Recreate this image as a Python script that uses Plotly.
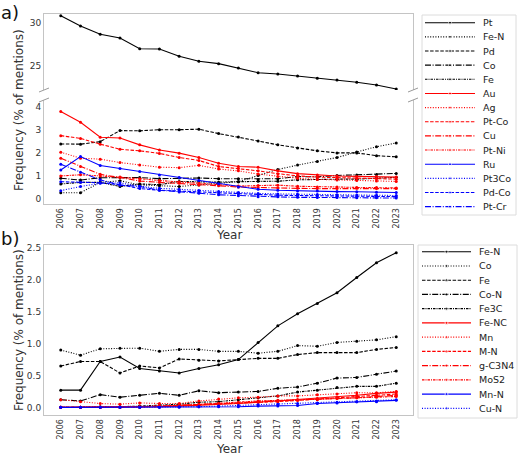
import plotly.graph_objects as go

# ---------------- data ----------------
years = list(range(2006, 2024))
year_labels = [str(y) for y in years]

# panel a) (% of mentions)
pt = [30.90, 29.68, 28.70, 28.27, 27.00, 26.97, 26.11, 25.52, 25.24, 24.73, 24.17, 24.02, 23.79, 23.51, 23.31, 23.04, 22.72, 22.25]
fe_n = [0.27, 0.27, 0.72, 0.79, 0.61, 0.57, 0.54, 0.61, 0.67, 0.75, 1.02, 1.28, 1.47, 1.63, 1.80, 2.04, 2.27, 2.43]
pd_ = [2.39, 2.38, 2.49, 2.97, 2.96, 3.01, 3.01, 3.03, 2.84, 2.69, 2.52, 2.35, 2.21, 2.09, 2.00, 2.00, 1.88, 1.83]
co = [0.90, 0.82, 0.92, 0.93, 0.93, 0.88, 0.91, 0.91, 0.88, 0.88, 0.85, 0.88, 0.97, 0.96, 1.02, 1.04, 1.06, 1.11]
fe = [0.65, 0.72, 0.72, 0.54, 0.65, 0.62, 0.76, 0.74, 0.73, 0.75, 0.77, 0.77, 0.83, 0.86, 0.86, 0.86, 0.91, 0.94]
au = [3.80, 3.33, 2.68, 2.65, 2.35, 2.13, 1.99, 1.80, 1.55, 1.41, 1.38, 1.22, 1.10, 1.04, 1.00, 0.98, 0.97, 0.95]
ag = [2.03, 1.77, 1.73, 1.58, 1.48, 1.38, 1.36, 1.46, 1.30, 1.22, 1.08, 0.98, 0.90, 0.85, 0.82, 0.80, 0.78, 0.76]
pt_co = [2.75, 2.63, 2.38, 2.16, 2.09, 1.98, 1.80, 1.67, 1.41, 1.32, 1.22, 1.10, 1.00, 0.95, 0.92, 0.90, 0.88, 0.86]
cu = [1.77, 1.41, 1.07, 0.93, 0.78, 0.72, 0.68, 0.61, 0.57, 0.52, 0.49, 0.48, 0.46, 0.45, 0.45, 0.46, 0.45, 0.45]
pt_ni = [1.00, 1.05, 1.00, 0.95, 0.88, 0.80, 0.74, 0.68, 0.62, 0.56, 0.58, 0.60, 0.55, 0.52, 0.52, 0.50, 0.50, 0.48]
ru = [1.26, 1.84, 1.45, 1.32, 1.19, 1.04, 0.93, 0.80, 0.66, 0.52, 0.42, 0.38, 0.35, 0.34, 0.32, 0.31, 0.29, 0.28]
pt3co = [0.36, 0.54, 0.68, 0.70, 0.55, 0.46, 0.42, 0.37, 0.32, 0.28, 0.24, 0.22, 0.20, 0.19, 0.18, 0.17, 0.16, 0.15]
pd_co = [0.75, 0.72, 0.70, 0.62, 0.45, 0.38, 0.34, 0.30, 0.26, 0.22, 0.18, 0.16, 0.15, 0.13, 0.12, 0.12, 0.11, 0.10]
pt_cr = [1.51, 1.16, 0.83, 0.60, 0.54, 0.38, 0.30, 0.25, 0.18, 0.14, 0.10, 0.09, 0.07, 0.06, 0.06, 0.05, 0.05, 0.04]

# panel b) (% of mentions)
co_n = [0.12, 0.10, 0.20, 0.16, 0.19, 0.22, 0.19, 0.26, 0.23, 0.24, 0.25, 0.30, 0.32, 0.38, 0.46, 0.47, 0.52, 0.57]
fe3c = [0.00, 0.00, 0.01, 0.01, 0.02, 0.03, 0.05, 0.08, 0.09, 0.12, 0.15, 0.18, 0.24, 0.27, 0.31, 0.33, 0.33, 0.38]
fe_nc = [0.00, 0.00, 0.00, 0.00, 0.00, 0.01, 0.02, 0.03, 0.05, 0.06, 0.08, 0.10, 0.12, 0.14, 0.16, 0.19, 0.22, 0.24]
mn = [0.12, 0.09, 0.06, 0.05, 0.07, 0.06, 0.06, 0.10, 0.13, 0.15, 0.16, 0.18, 0.18, 0.20, 0.21, 0.23, 0.23, 0.25]
m_n = [0.00, 0.00, 0.00, 0.00, 0.01, 0.02, 0.03, 0.04, 0.05, 0.07, 0.08, 0.09, 0.11, 0.13, 0.15, 0.17, 0.19, 0.21]
g_c3n4 = [0.00, 0.00, 0.00, 0.00, 0.01, 0.02, 0.03, 0.04, 0.06, 0.07, 0.09, 0.10, 0.11, 0.12, 0.14, 0.15, 0.17, 0.19]
mos2 = [0.00, 0.00, 0.00, 0.00, 0.00, 0.01, 0.03, 0.05, 0.06, 0.08, 0.10, 0.11, 0.12, 0.13, 0.14, 0.15, 0.16, 0.17]
mn_n = [0.00, 0.00, 0.00, 0.00, 0.00, 0.00, 0.00, 0.01, 0.01, 0.01, 0.02, 0.02, 0.03, 0.06, 0.07, 0.09, 0.09, 0.11]
cu_n = [0.00, 0.00, 0.00, 0.00, 0.00, 0.00, 0.01, 0.01, 0.02, 0.03, 0.04, 0.05, 0.06, 0.07, 0.08, 0.09, 0.10, 0.12]

a_ticks_upper = [25, 30]
a_ticks_lower = [0, 1, 2, 3, 4]
b_ticks = [0.0, 0.5, 1.0, 1.5, 2.0, 2.5]

# ---------------- styles ----------------
DASH = {
    "solid": "solid",
    "dot": "1px,1.6px",
    "dash": "3.5px,1.6px",
    "dashdot": "6px,1.6px,1px,1.6px",
    "dense": "2.5px,1px,1px,1px",
}
STYLE_CYCLE = ["solid", "dot", "dash", "dashdot", "dense"]

series_a = [
    ("Pt", pt, "black"), ("Fe-N", fe_n, "black"), ("Pd", pd_, "black"), ("Co", co, "black"), ("Fe", fe, "black"),
    ("Au", au, "red"), ("Ag", ag, "red"), ("Pt-Co", pt_co, "red"), ("Cu", cu, "red"), ("Pt-Ni", pt_ni, "red"),
    ("Ru", ru, "blue"), ("Pt3Co", pt3co, "blue"), ("Pd-Co", pd_co, "blue"), ("Pt-Cr", pt_cr, "blue"),
]
series_b = [
    ("Fe-N", fe_n, "black"), ("Co", co, "black"), ("Fe", fe, "black"), ("Co-N", co_n, "black"), ("Fe3C", fe3c, "black"),
    ("Fe-NC", fe_nc, "red"), ("Mn", mn, "red"), ("M-N", m_n, "red"), ("g-C3N4", g_c3n4, "red"), ("MoS2", mos2, "red"),
    ("Mn-N", mn_n, "blue"), ("Cu-N", cu_n, "blue"),
]

W, H = 520, 455
FONT = "DejaVu Sans"
SPINE = "#c4c4c4"
TXT = "#333333"
LW = 1.1
MS = 3


def fx(p):
    return p / W


def fy(p):
    return 1 - p / H


fig = go.Figure()


def add_series(series, xa, ya):
    for idx, (name, vals, color) in enumerate(series):
        style = STYLE_CYCLE[idx % 5]
        fig.add_trace(go.Scatter(
            x=years, y=vals, name=name, mode="lines+markers",
            line=dict(color=color, width=LW, dash=DASH[style]),
            marker=dict(color=color, size=MS),
            xaxis=xa, yaxis=ya, showlegend=False,
        ))


# panel a upper part (Pt only reaches it) and lower part
name0, vals0, col0 = series_a[0]
fig.add_trace(go.Scatter(x=years, y=vals0, mode="lines+markers", name=name0,
                         line=dict(color=col0, width=LW), marker=dict(color=col0, size=MS),
                         xaxis="x", yaxis="y", showlegend=False))
add_series(series_a, "x2", "y2")
add_series(series_b, "x3", "y3")


# manual legends drawn on hidden helper axes
def add_legend(series, xa, ya, first_y, step, x0, x1, xt):
    for i, (name, vals, color) in enumerate(series):
        style = STYLE_CYCLE[i % 5]
        yy = first_y + i * step
        fig.add_trace(go.Scatter(
            x=[x0, (x0 + x1) / 2, x1], y=[yy, yy, yy], mode="lines+markers",
            line=dict(color=color, width=LW, dash=DASH[style]),
            marker=dict(color=color, size=[0, MS, 0]),
            xaxis=xa, yaxis=ya, showlegend=False, hoverinfo="skip",
        ))
        fig.add_annotation(x=xt, y=yy, xref=xa, yref=ya, text=name, showarrow=False,
                           xanchor="left", yanchor="middle", borderpad=0,
                           font=dict(family=FONT, size=9.5, color="#222222"))


add_legend(series_a, "x4", "y4", 22.7, 14.15, 425, 475, 482)
add_legend(series_b, "x5", "y5", 251.7, 14.24, 422, 471, 478)

xdom = [fx(44), fx(413)]
xrange_ = [2005.15, 2023.85]
tickfont = dict(family=FONT, size=9, color=TXT)
xtickfont = dict(family=FONT, size=8, color=TXT)

common_x = dict(range=xrange_, domain=xdom, showgrid=False, zeroline=False,
                linecolor=SPINE, linewidth=1, automargin=False)
common_y = dict(showgrid=False, zeroline=False, linecolor=SPINE, linewidth=1,
                showline=True, mirror=True, ticks="", tickfont=tickfont, automargin=False)

fig.update_layout(
    width=W, height=H, template="none",
    margin=dict(l=0, r=0, t=0, b=0),
    paper_bgcolor="white", plot_bgcolor="rgba(0,0,0,0)",
    showlegend=False,
    font=dict(family=FONT, color=TXT),
    xaxis=dict(**common_x, anchor="y", side="top", showline=True, mirror=False,
               showticklabels=False, ticks=""),
    yaxis=dict(**common_y, anchor="x", domain=[fy(90), fy(14)], range=[22.13, 31.1],
               tickvals=a_ticks_upper, ticktext=[str(v) for v in a_ticks_upper]),
    xaxis2=dict(**common_x, anchor="y2", showline=True, mirror=False, ticks="",
                tickvals=years, ticktext=year_labels, tickangle=-90, tickfont=xtickfont),
    yaxis2=dict(**common_y, anchor="x2", domain=[fy(204), fy(100)], range=[-0.22, 4.3],
                tickvals=a_ticks_lower, ticktext=[str(v) for v in a_ticks_lower]),
    xaxis3=dict(**common_x, anchor="y3", showline=True, mirror=True, ticks="",
                tickvals=years, ticktext=year_labels, tickangle=-90, tickfont=xtickfont),
    yaxis3=dict(**common_y, anchor="x3", domain=[fy(415), fy(245)], range=[-0.12, 2.55],
                tickvals=b_ticks, ticktext=["%.1f" % v for v in b_ticks]),
    xaxis4=dict(domain=[fx(422), fx(516)], range=[422, 516], visible=False, anchor="y4"),
    yaxis4=dict(domain=[fy(215), fy(15)], range=[215, 15], visible=False, anchor="x4"),
    xaxis5=dict(domain=[fx(418), fx(517)], range=[418, 517], visible=False, anchor="y5"),
    yaxis5=dict(domain=[fy(418), fy(245)], range=[418, 245], visible=False, anchor="x5"),
)

shapes = []
# legend frames
for (x0, x1, y0, y1) in [(422, 516, 15, 215), (418, 517, 245, 418)]:
    shapes.append(dict(type="rect", xref="paper", yref="paper", x0=fx(x0), x1=fx(x1),
                       y0=fy(y1), y1=fy(y0), line=dict(color="#dcdcdc", width=1),
                       fillcolor="white", layer="below"))
# broken-axis marks
for xe in (44, 413):
    for ye in (90, 100):
        shapes.append(dict(type="line", xref="paper", yref="paper",
                           x0=fx(xe - 5), y0=fy(ye + 2), x1=fx(xe + 5), y1=fy(ye - 2),
                           line=dict(color="#9a9a9a", width=1)))
fig.update_layout(shapes=shapes)

# texts
for txt, yc in (("a)", 12), ("b)", 238)):
    fig.add_annotation(x=0, y=fy(yc), xref="paper", yref="paper", text=txt,
                       showarrow=False, xanchor="left", yanchor="middle", borderpad=0,
                       font=dict(family=FONT, size=18, color="#111111"))
for yc in (110, 330):
    fig.add_annotation(x=fx(19), y=fy(yc), xref="paper", yref="paper",
                       text="Frequency (% of mentions)", textangle=-90, showarrow=False,
                       xanchor="center", yanchor="middle",
                       font=dict(family=FONT, size=12, color=TXT))
for yc in (235, 449):
    fig.add_annotation(x=fx(229), y=fy(yc), xref="paper", yref="paper", text="Year",
                       showarrow=False, xanchor="center", yanchor="middle",
                       font=dict(family=FONT, size=12, color=TXT))

fig.write_html("out.html", config={"displayModeBar": False},
               post_script="document.body.style.margin='0px';document.body.style.overflow='hidden';")
